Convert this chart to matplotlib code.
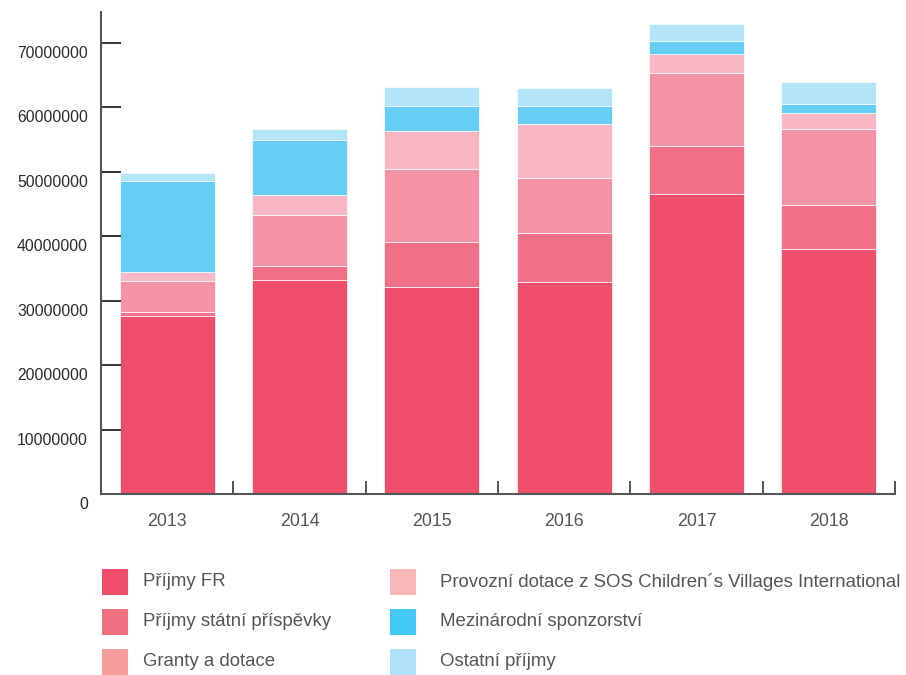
import numpy as np
import matplotlib
matplotlib.use("Agg")
import matplotlib.pyplot as plt
import matplotlib.transforms as mtransforms
from matplotlib.patches import Rectangle

plt.rcParams['font.family'] = ['Liberation Sans', 'DejaVu Sans']

# Data (CZK)
years = ['2013', '2014', '2015', '2016', '2017', '2018']
series_names = [
    'Příjmy FR',
    'Příjmy státní příspěvky',
    'Granty a dotace',
    'Provozní dotace z SOS Children´s Villages International',
    'Mezinárodní sponzorství',
    'Ostatní příjmy',
]
prijmy_fr = [27.7e6, 33.2e6, 32.1e6, 32.9e6, 46.6e6, 38.0e6]
statni_prispevky = [0.5e6, 2.2e6, 7.0e6, 7.6e6, 7.4e6, 6.9e6]
granty_dotace = [4.8e6, 7.9e6, 11.3e6, 8.5e6, 11.3e6, 11.8e6]
provozni_dotace = [1.5e6, 3.1e6, 6.0e6, 8.4e6, 3.0e6, 2.4e6]
mezinarodni = [14.1e6, 8.5e6, 3.8e6, 2.8e6, 2.0e6, 1.4e6]
ostatni = [1.2e6, 1.8e6, 3.0e6, 2.8e6, 2.6e6, 3.4e6]
yticks = [0, 10000000, 20000000, 30000000, 40000000, 50000000, 60000000, 70000000]

series = [prijmy_fr, statni_prispevky, granty_dotace, provozni_dotace, mezinarodni, ostatni]
bar_colors = ['#F04F6C', '#F07087', '#F593A6', '#F9B7C5', '#66CDF4', '#B3E5F9']
legend_colors = ['#F14E6B', '#F07080', '#F59C9C', '#F9B8B8', '#44C8F5', '#B0E2FA']

fig = plt.figure(figsize=(9.06, 6.75), dpi=100)
ax = fig.add_axes([101 / 906, (675 - 494) / 675, (895 - 101) / 906, (494 - 12) / 675])

x = np.arange(len(years))
bottom = np.zeros(len(years))
for vals, col in zip(series, bar_colors):
    ax.bar(x, vals, width=0.72, bottom=bottom, color=col, edgecolor='#FFFFFF', linewidth=0.5)
    bottom += np.array(vals)

ax.set_xlim(-0.5, len(years) - 0.5)
ax.set_ylim(0, 74.8e6)

for s in ['top', 'right']:
    ax.spines[s].set_visible(False)
for s in ['left', 'bottom']:
    ax.spines[s].set_color('#555555')
    ax.spines[s].set_linewidth(1.5)

ax.set_xticks(x)
ax.set_xticklabels(years)
ax.set_xticks(np.arange(0.5, len(years), 1.0), minor=True)
ax.tick_params(axis='x', which='major', length=0, pad=13.7, labelsize=12.8, labelcolor='#555555')
ax.tick_params(axis='x', which='minor', direction='in', length=9.4, width=1.3, color='#444444')

ax.set_yticks(yticks)
ax.set_yticklabels([str(v) for v in yticks])
ax.tick_params(axis='y', direction='in', length=14.4, width=1.4, color='#333333',
               pad=9.4, labelsize=11.3, labelcolor='#2a2a2a')
offset = mtransforms.ScaledTranslation(0, -9 / 100, fig.dpi_scale_trans)
for lab in ax.get_yticklabels():
    lab.set_transform(lab.get_transform() + offset)

# legend drawn manually in two columns
box_x = [102, 390]
text_x = [143, 440]
row_y = [582, 622, 662]
for i, (name, col) in enumerate(zip(series_names, legend_colors)):
    c = i // 3
    cy = row_y[i % 3]
    fig.add_artist(Rectangle((box_x[c] / 906, 1 - (cy + 13) / 675), 26 / 906, 26 / 675,
                             transform=fig.transFigure, color=col, lw=0))
    fig.text(text_x[c] / 906, 1 - cy / 675, name, fontsize=13.4, color='#555555',
             va='center', ha='left')

fig.savefig('out.png', dpi=100)
